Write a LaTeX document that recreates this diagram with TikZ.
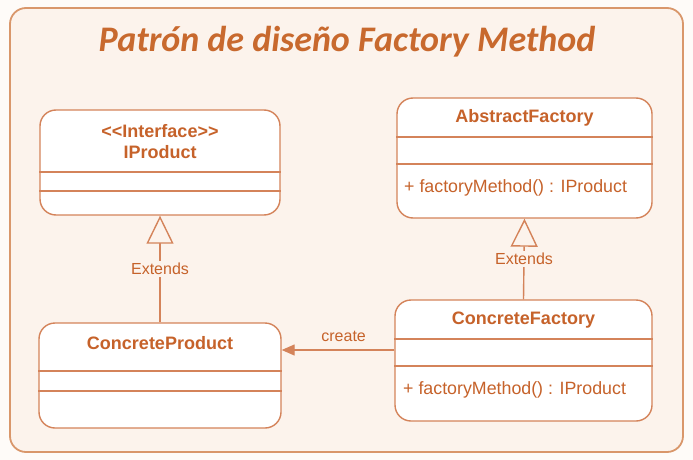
\documentclass[tikz,border=0pt]{standalone}
\usepackage{fontspec}
\setmainfont{Liberation Sans}
\newfontfamily\titlefont{Carlito}
\usepackage{xcolor}
\usetikzlibrary{positioning, arrows.meta}
\definecolor{cPage}{HTML}{FEFBF8}
\definecolor{cBg}{HTML}{FCF3EC}
\definecolor{cFrame}{HTML}{D9976B}
\definecolor{cLine}{HTML}{D4835A}
\definecolor{cText}{HTML}{C6622A}
\definecolor{cTitle}{HTML}{C8692E}

\begin{document}
\begin{tikzpicture}[x=1pt, y=-1pt,
  cls/.style={draw=cLine, line width=1.4pt, fill=white, rounded corners=16pt, inner sep=0pt},
  cname/.style={font=\fontsize{18}{21}\selectfont\bfseries, text=cText, inner sep=0pt},
  cmeth/.style={font=\fontsize{17.8}{21}\selectfont, text=cText, inner sep=0pt, anchor=west},
  sep/.style={draw=cLine, line width=1.2pt},
  lbl/.style={font=\fontsize{16}{19}\selectfont, text=cText, fill=cBg, inner sep=2pt},
  inh/.style={draw=cLine, line width=1.4pt, -{Triangle[open, length=28pt, width=27pt, fill=cBg]}},
  dep/.style={draw=cLine, line width=1.4pt, -{Triangle[length=13pt, width=11pt]}}
]
\useasboundingbox (0,0) rectangle (693,460);
\fill[cPage] (0,0) rectangle (693,460);
\draw[draw=cFrame, fill=cBg, line width=1.8pt, rounded corners=16pt] (10,8) rectangle (683,452);

\node[font=\titlefont\fontsize{36}{42}\selectfont\bfseries\itshape, text=cTitle] (title) at (347,42)
  {Patrón de diseño Factory Method};

% product side
\node[cls, minimum width=240pt, minimum height=105pt] (iprod) at (160,162.5) {};
\node[cname] at (160,131) {{<}{<}Interface{>}{>}};
\node[cname] at (160,152) {IProduct};
\draw[sep] (iprod.west |- 0,172) -- (iprod.east |- 0,172);
\draw[sep] (iprod.west |- 0,191) -- (iprod.east |- 0,191);

\node[cls, minimum width=242pt, minimum height=105pt] (cprod) at (160,375.5) {};
\node[cname] at (160,343) {ConcreteProduct};
\draw[sep] (cprod.west |- 0,371) -- (cprod.east |- 0,371);
\draw[sep] (cprod.west |- 0,391) -- (cprod.east |- 0,391);

% factory side
\node[cls, minimum width=255pt, minimum height=120pt] (absf) at (524.5,158) {};
\node[cname] at (524.5,118) {AbstractFactory};
\node[cmeth] at (404,188) {+ factoryMethod() : IProduct};
\draw[sep] (absf.west |- 0,137) -- (absf.east |- 0,137);
\draw[sep] (absf.west |- 0,164) -- (absf.east |- 0,164);

\node[cls, minimum width=257pt, minimum height=121pt] (cfact) at (523.5,360.5) {};
\node[cname] at (523.5,320) {ConcreteFactory};
\node[cmeth] at (403,390) {+ factoryMethod() : IProduct};
\draw[sep] (cfact.west |- 0,339) -- (cfact.east |- 0,339);
\draw[sep] (cfact.west |- 0,366) -- (cfact.east |- 0,366);

% relations
\draw[inh] (cprod.north) -- node[lbl, pos=0.5]{Extends} (iprod.south);
\draw[inh] (cfact.north) -- node[lbl, pos=0.5]{Extends} (absf.south);
\draw[dep] ([yshift=10.5pt]cfact.west) -- node[lbl, fill=none, above=6pt, pos=0.45]{create} ([yshift=10.5pt]cfact.west -| cprod.east);
\end{tikzpicture}
\end{document}
